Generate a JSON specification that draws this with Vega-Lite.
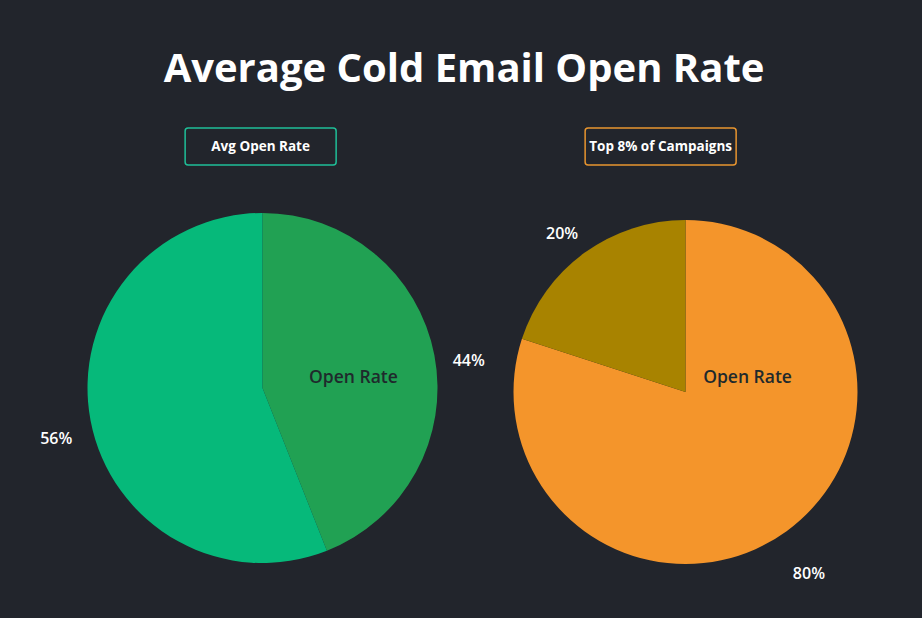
{
  "$schema": "https://vega.github.io/schema/vega-lite/v6.json",
  "background": "#22252c",
  "padding": {"left": 38, "right": 38, "top": 50, "bottom": 5},
  "title": {"text": "Average Cold Email Open Rate", "font": "Open Sans", "fontSize": 40, "fontWeight": 700, "color": "#ffffff", "anchor": "middle", "offset": 37, "dx": 3},
  "config": {"view": {"stroke": null}, "font": "Open Sans"},
  "center": true,
  "spacing": 5,
  "vconcat": [
    {
      "spacing": 247,
      "hconcat": [
        {
          "width": 151, "height": 37,
          "view": {"stroke": "#1fbf98", "strokeWidth": 1.5, "cornerRadius": 3},
          "data": {"values": [{"label": "Avg Open Rate"}]},
          "mark": {"type": "text", "color": "#ffffff", "fontSize": 13.5, "fontWeight": "bold", "font": "Open Sans"},
          "encoding": {"text": {"field": "label"}}
        },
        {
          "width": 151, "height": 37,
          "view": {"stroke": "#e8952f", "strokeWidth": 1.5, "cornerRadius": 3},
          "data": {"values": [{"label": "Top 8% of Campaigns"}]},
          "mark": {"type": "text", "color": "#ffffff", "fontSize": 13.5, "fontWeight": "bold", "font": "Open Sans"},
          "encoding": {"text": {"field": "label"}}
        }
      ]
    },
    {
      "spacing": 0,
      "bounds": "flush",
      "resolve": {"scale": {"color": "independent", "theta": "independent"}},
      "hconcat": [
        {
          "width": 449, "height": 434,
          "data": {"values": [
            {"segment": "Open Rate", "value": 44, "label": "44%", "order": 1},
            {"segment": "Not Opened", "value": 56, "label": "56%", "order": 2}
          ]},
          "encoding": {
            "theta": {"field": "value", "type": "quantitative", "stack": true},
            "order": {"field": "order", "type": "quantitative"}
          },
          "layer": [
            {
              "mark": {"type": "arc", "radius": 175},
              "encoding": {
                "color": {"field": "segment", "type": "nominal", "scale": {"domain": ["Open Rate", "Not Opened"], "range": ["#21a153", "#06b97a"]}, "legend": null}
              }
            },
            {
              "mark": {"type": "text", "radius": 210, "dy": 12, "color": "#ffffff", "fontSize": 16, "fontWeight": 600, "font": "Open Sans"},
              "encoding": {"text": {"field": "label"}}
            },
            {
              "data": {"values": [{"t": "Open Rate"}]},
              "mark": {"type": "text", "color": "#1f2a2c", "fontSize": 17.5, "fontWeight": 600, "font": "Open Sans"},
              "encoding": {"text": {"field": "t"}, "theta": {"value": 1.461}, "radius": {"value": 91.5}, "order": null}
            }
          ]
        },
        {
          "width": 397, "height": 442,
          "data": {"values": [
            {"segment": "Open Rate", "value": 80, "label": "80%", "order": 1},
            {"segment": "Not Opened", "value": 20, "label": "20%", "order": 2}
          ]},
          "encoding": {
            "theta": {"field": "value", "type": "quantitative", "stack": true},
            "order": {"field": "order", "type": "quantitative"}
          },
          "layer": [
            {
              "mark": {"type": "arc", "radius": 172},
              "encoding": {
                "color": {"field": "segment", "type": "nominal", "scale": {"domain": ["Open Rate", "Not Opened"], "range": ["#f4952b", "#a88300"]}, "legend": null}
              }
            },
            {
              "mark": {"type": "text", "radius": 210, "dy": 12, "color": "#ffffff", "fontSize": 16, "fontWeight": 600, "font": "Open Sans"},
              "encoding": {"text": {"field": "label"}}
            },
            {
              "data": {"values": [{"t": "Open Rate"}]},
              "mark": {"type": "text", "color": "#1f2a2c", "fontSize": 17.5, "fontWeight": 600, "font": "Open Sans"},
              "encoding": {"text": {"field": "t"}, "theta": {"value": 1.349}, "radius": {"value": 63.6}, "order": null}
            }
          ]
        }
      ]
    }
  ]
}
